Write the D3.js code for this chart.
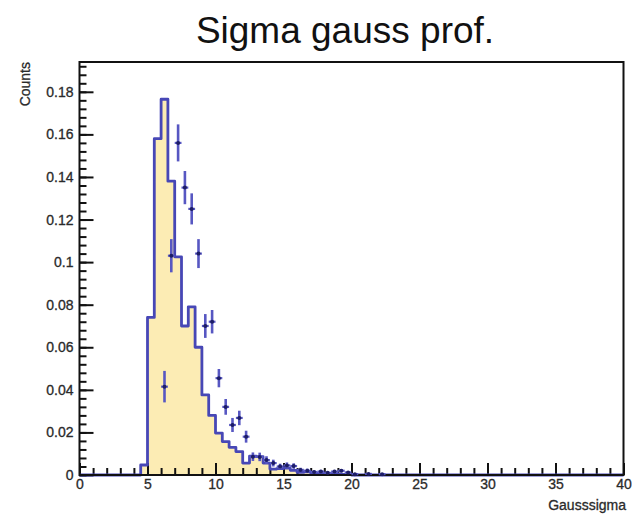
<!DOCTYPE html>
<html>
<head>
	<title>Sigma gauss prof.</title>
	<script src="https://cdnjs.cloudflare.com/ajax/libs/d3/7.8.5/d3.min.js"></script>
</head>
<style type="text/css">
	body {margin:0; background:#fff;}
	text {font-family: "Liberation Sans", Arial, Helvetica, sans-serif;}
</style>
<body>
</body>
</html>
<script type="text/javascript">
	var width = 634;
	var height = 515;
	var margin = {left:79.5, right:10.5, top:62, bottom:40};

	// histogram, bins of 0.5 starting at histStart (all other bins empty)
	var histStart = 4.5;
	var binWidth = 0.5;
	var histVals = [0.0047, 0.074, 0.158, 0.1765, 0.138, 0.1025, 0.070, 0.079, 0.060, 0.0376,
					0.028, 0.0197, 0.0157, 0.013, 0.011, 0.0056, 0.0088, 0.0086, 0.0056, 0.0028,
					0.003, 0.0032, 0.0022, 0.0012, 0.0015, 0.0008, 0.0006, 0.0004, 0.0006, 0.0003, 0.0002];

	// data points with errors
	var ptX = [6.25, 6.75, 7.25, 7.75, 8.25, 8.75, 9.25, 9.75, 10.25, 10.75, 11.25, 11.75, 12.25, 12.75,
			   13.25, 13.75, 14.25, 14.75, 15.25, 15.75, 16.25, 16.75, 17.25, 17.75, 18.25, 18.75, 19.25,
			   19.75, 20.25, 21.25, 22.25];
	var ptY = [0.0415, 0.103, 0.156, 0.135, 0.125, 0.104, 0.070, 0.072, 0.0455, 0.032, 0.0235, 0.0268, 0.018, 0.0086,
			   0.0085, 0.007, 0.0056, 0.0040, 0.0045, 0.0042, 0.0024, 0.0020, 0.0014, 0.0016, 0.0010, 0.0016, 0.0020,
			   0.0012, 0.0004, 0.0005, 0.0004];
	var ptErr = [0.0074, 0.0078, 0.0087, 0.0078, 0.0073, 0.0068, 0.0056, 0.0055, 0.0043, 0.0037, 0.0033, 0.0034, 0.0028, 0.002,
				 0.002, 0.0018, 0.0016, 0.0013, 0.0014, 0.0013, 0.001, 0.001, 0.0008, 0.0008, 0.0006, 0.0008, 0.0008,
				 0.0006, 0.0004, 0.0004, 0.0004];

	var xTicks = [0, 5, 10, 15, 20, 25, 30, 35, 40];
	var yTicks = [0, 0.02, 0.04, 0.06, 0.08, 0.1, 0.12, 0.14, 0.16, 0.18];

	var w = width - margin.left - margin.right;
	var h = height - margin.top - margin.bottom;

	var svg = d3.select("body").append("svg").attr("width", width).attr("height", height);

	var x = d3.scaleLinear().domain([0, 40]).range([0, w]);
	var y = d3.scaleLinear().domain([0, 0.194]).range([h, 0]);

	var g = svg.append("g").attr("transform", "translate(" + margin.left + "," + margin.top + ")");

	// histogram outline as steps, from 0 to 40
	var pts = [[0, 0], [histStart, 0]];
	histVals.forEach(function(v, i) {
		var lo = histStart + i * binWidth;
		pts.push([lo, v]);
		pts.push([lo + binWidth, v]);
	});
	pts.push([histStart + histVals.length * binWidth, 0]);
	pts.push([40, 0]);

	var line = d3.line().x(function(d){return x(d[0])}).y(function(d){return y(d[1])});
	g.append("path").attr("d", line(pts) + "Z").attr("fill", "#fcecb4").attr("stroke", "none");

	// axes (ticks pointing inward, ROOT style)
	g.append("g").attr("transform", "translate(0," + h + ")")
		.call(d3.axisBottom(x).tickValues(d3.range(0, 41, 1)).tickSize(-7).tickSizeOuter(0).tickFormat(""));
	g.append("g").attr("transform", "translate(0," + h + ")")
		.call(d3.axisBottom(x).tickValues(xTicks).tickSize(-12).tickSizeOuter(0).tickPadding(4).tickFormat(d3.format("d")));
	g.append("g")
		.call(d3.axisLeft(y).tickValues(d3.range(0, 0.1935, 0.004)).tickSize(-7).tickSizeOuter(0).tickFormat(""));
	g.append("g")
		.call(d3.axisLeft(y).tickValues(yTicks).tickSize(-14).tickSizeOuter(0).tickPadding(6).tickFormat(d3.format(".2~f")));

	g.selectAll(".tick line").attr("stroke", "#111").attr("stroke-width", 2);
	g.selectAll(".domain").attr("stroke", "none");
	g.selectAll(".tick text").attr("font-size", 14).attr("fill", "#2a2a2a")
		.attr("stroke", "#2a2a2a").attr("stroke-width", 0.3)
		.style("font-family", "'Liberation Sans', Arial, sans-serif");

	g.append("path").attr("d", line(pts)).attr("fill", "none")
		.attr("stroke", "#4747b6").attr("stroke-width", 2.8).attr("stroke-linejoin", "round");

	// frame
	g.append("rect").attr("x", 0).attr("y", 0).attr("width", w).attr("height", h)
		.attr("fill", "none").attr("stroke", "#111").attr("stroke-width", 2);

	// points
	var pg = g.selectAll(".pt").data(ptX).enter().append("g").attr("class", "pt");
	pg.append("line")
		.attr("x1", function(d){return x(d)}).attr("x2", function(d){return x(d)})
		.attr("y1", function(d, i){return y(Math.max(0, ptY[i] - ptErr[i]))})
		.attr("y2", function(d, i){return y(ptY[i] + ptErr[i])})
		.attr("stroke", "#5757c2").attr("stroke-width", 2.6);
	pg.append("line")
		.attr("x1", function(d){return x(d - binWidth / 2)}).attr("x2", function(d){return x(d + binWidth / 2)})
		.attr("y1", function(d, i){return y(ptY[i])}).attr("y2", function(d, i){return y(ptY[i])})
		.attr("stroke", "#5757c2").attr("stroke-width", 2.2);
	pg.append("circle")
		.attr("cx", function(d){return x(d)}).attr("cy", function(d, i){return y(ptY[i])})
		.attr("r", 2).attr("fill", "#1d1d66");

	// titles
	svg.append("text").attr("x", 345).attr("y", 43).attr("text-anchor", "middle")
		.attr("font-size", 37).attr("fill", "#111").text("Sigma gauss prof.");
	svg.append("text").attr("x", 626).attr("y", 510).attr("text-anchor", "end")
		.attr("font-size", 14).attr("fill", "#2a2a2a").attr("stroke", "#2a2a2a").attr("stroke-width", 0.3).text("Gausssigma");
	svg.append("text").attr("transform", "translate(30,62) rotate(-90)").attr("text-anchor", "end")
		.attr("font-size", 14).attr("fill", "#2a2a2a").attr("stroke", "#2a2a2a").attr("stroke-width", 0.3).text("Counts");
</script>
